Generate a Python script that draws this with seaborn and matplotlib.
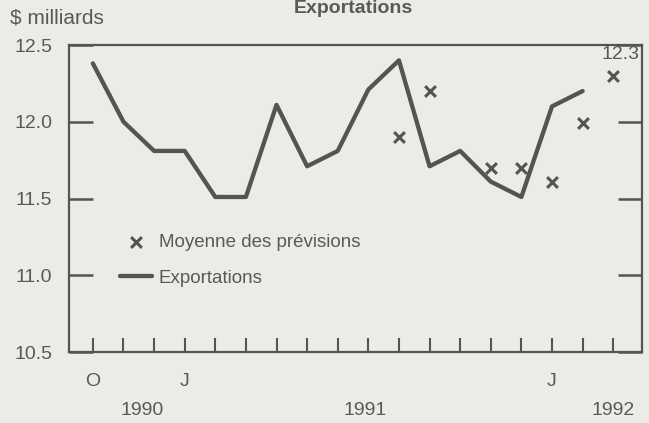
import matplotlib
matplotlib.use("Agg")
import matplotlib.pyplot as plt
import numpy as np
import pandas as pd
import seaborn as sns

# monthly ticks, Oct 1990 .. Mar 1992
months = ["O", "N", "D", "J", "F", "M", "A", "M", "J", "J", "A", "S",
          "O", "N", "D", "J", "F", "M"]
month_labels = ["O", "", "", "J", "", "", "", "", "", "", "", "",
                "", "", "", "J", "", ""]
exports = [12.38, 12.0, 11.81, 11.81, 11.51, 11.51, 12.11, 11.71, 11.81,
           12.21, 12.40, 11.71, 11.81, 11.61, 11.51, 12.10, 12.20]
forecast_idx = [10, 11, 13, 14, 15, 16, 17]
forecast = [11.90, 12.20, 11.70, 11.70, 11.61, 11.99, 12.30]
years = ["1990", "1991", "1992"]
year_pos = [1.6, 8.9, 17.0]

bg = "#ebebe8"
ink = "#55554f"
text_c = "#5a5a55"

sns.set_style("white")
plt.rcParams["font.family"] = ["Liberation Sans", "DejaVu Sans"]

df_line = pd.DataFrame({"mois": np.arange(len(exports)), "valeur": exports})
df_pts = pd.DataFrame({"mois": forecast_idx, "valeur": forecast})

fig = plt.figure(figsize=(6.49, 4.23), dpi=100, facecolor=bg)
ax = fig.add_axes([0.1063, 0.1678, 0.8829, 0.7258], facecolor=bg)

sns.scatterplot(data=df_pts, x="mois", y="valeur", marker="x", s=60,
                color=ink, linewidth=2.2, ax=ax, label="Moyenne des prévisions", zorder=3)
sns.lineplot(data=df_line, x="mois", y="valeur", color=ink, linewidth=3.1,
             ax=ax, label="Exportations", zorder=2)

ax.set_xlim(-0.78, 17.94)
ax.set_ylim(10.5, 12.5)
ax.set_xlabel("")
ax.set_ylabel("")

ax.set_xticks(np.arange(len(months)))
ax.set_xticklabels(month_labels)
ax.set_yticks([10.5, 11.0, 11.5, 12.0, 12.5])
ax.set_yticklabels(["10.5", "11.0", "11.5", "12.0", "12.5"])
ax.tick_params(axis="x", direction="in", length=10, width=1.5, color=ink,
               labelsize=14, labelcolor=text_c, pad=15, bottom=True)
ax.tick_params(axis="y", direction="in", length=17, width=1.8, color=ink,
               labelsize=14, labelcolor=text_c, pad=12, left=True, right=True)

for s in ax.spines.values():
    s.set_color(ink)
    s.set_linewidth(1.6)

for y, lab in zip(year_pos, years):
    ax.text(y, -0.19, lab, transform=ax.get_xaxis_transform(), ha="center",
            va="center", fontsize=14, color=text_c)

ax.annotate("12.3", (forecast_idx[-1], forecast[-1]), xytext=(5, 15),
            textcoords="offset points", ha="center", va="center",
            fontsize=14, color=text_c)

leg = ax.legend(loc="upper left", bbox_to_anchor=(0.06, 0.44), frameon=False,
                fontsize=13.5, labelcolor=text_c, handlelength=1.7,
                handletextpad=0.35, labelspacing=1.0, markerscale=1.0)

fig.text(0.015, 0.958, "$ milliards", fontsize=15, color=text_c, ha="left", va="center")
fig.text(0.545, 0.999, "Exportations", fontsize=14, fontweight="bold",
         color=text_c, ha="center", va="top")

fig.savefig("out.png", dpi=100, facecolor=bg)
